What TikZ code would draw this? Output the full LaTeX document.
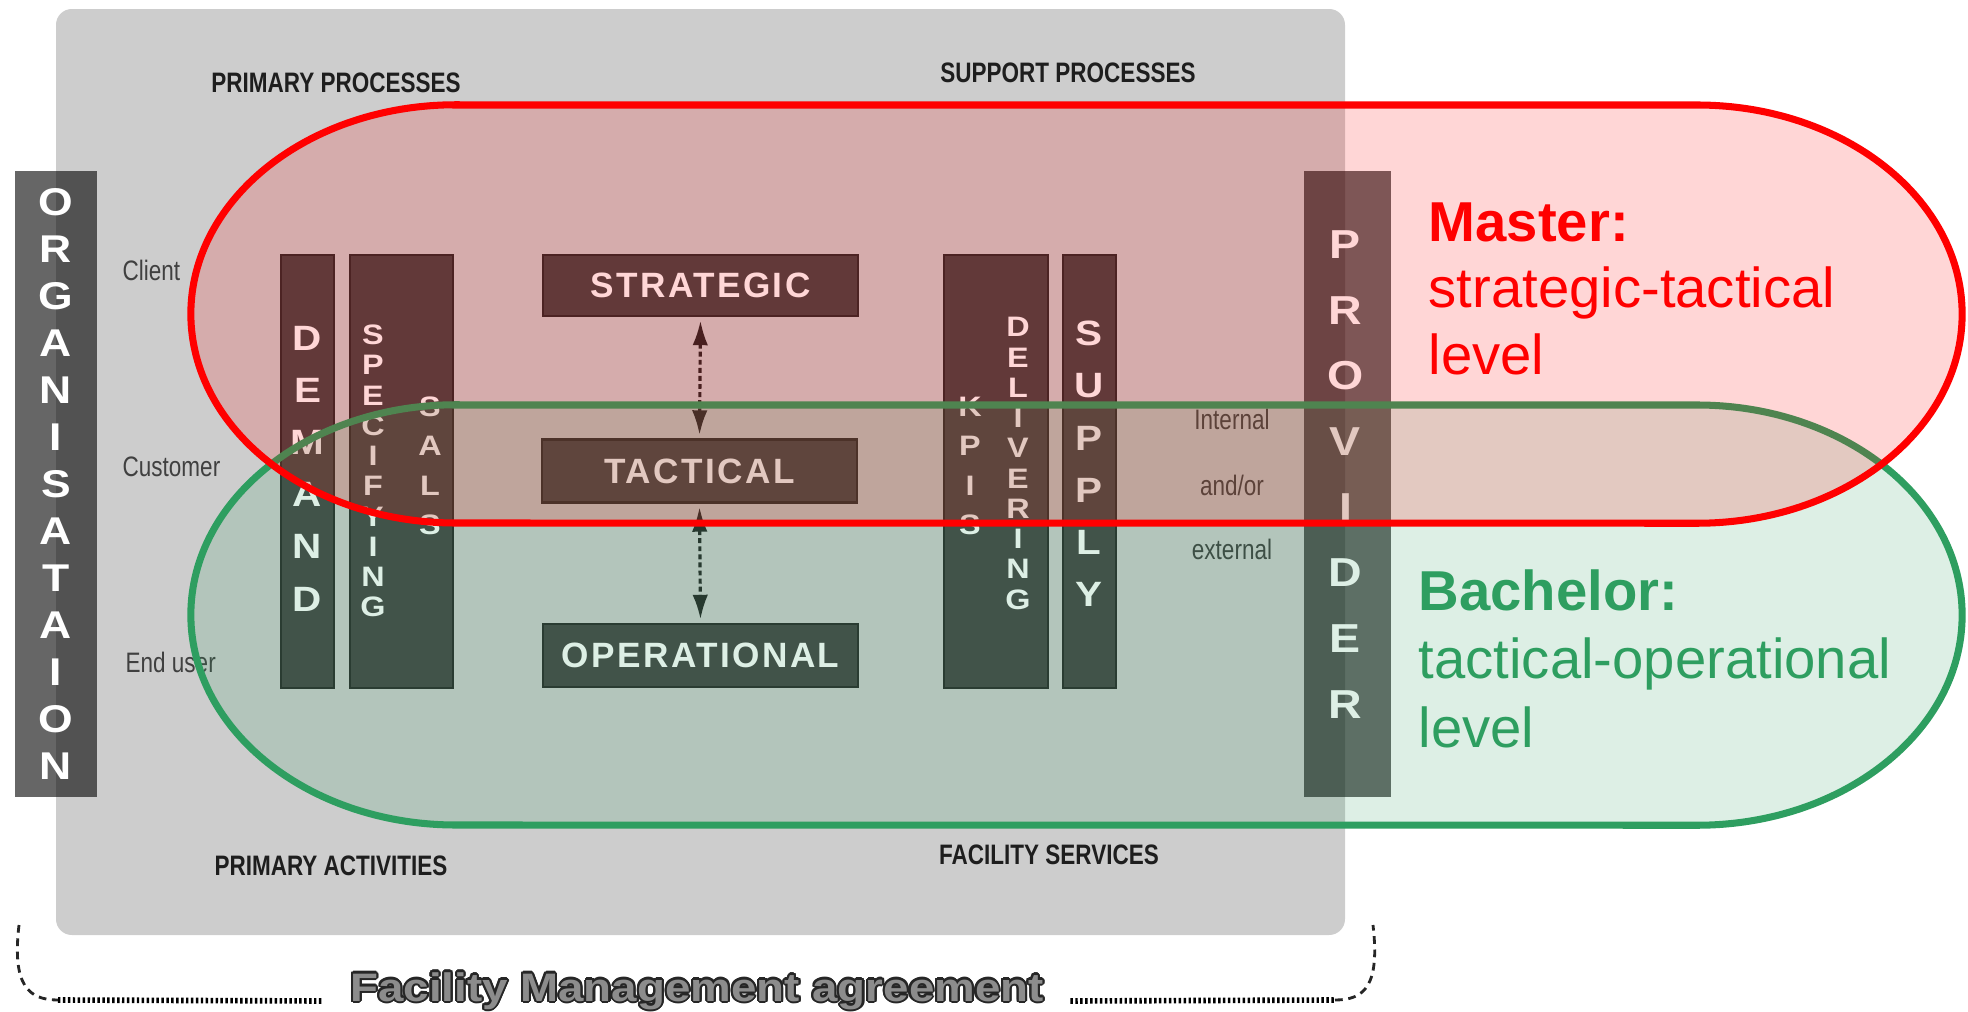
\documentclass[tikz,border=0pt]{standalone}
\usepackage{fontspec}
\setmainfont{Liberation Sans}
\newfontfamily\condfont[FakeStretch=0.8]{Liberation Sans}
\newfontfamily\capsfont[LetterSpace=7]{Liberation Sans}
\newfontfamily\widefont[FakeStretch=1.15]{Liberation Sans}
\usepackage{contour}
\contourlength{0.6pt}
\usetikzlibrary{calc,arrows.meta}

\definecolor{panelgray}{HTML}{CDCDCD}
\definecolor{boxfill}{HTML}{454545}
\definecolor{boxline}{HTML}{2A2A2A}
\definecolor{mred}{HTML}{FF0000}
\definecolor{bgreen}{HTML}{2E9E60}
\definecolor{labelgray}{HTML}{1E1E1E}

\begin{document}
\begin{tikzpicture}[x=0.01cm,y=-0.01cm]
\tikzstyle{head}=[inner sep=0pt,text=labelgray,font=\condfont\bfseries\fontsize{8}{9.6}\selectfont]
\tikzstyle{role}=[inner sep=0pt,text=black!75,font=\condfont\fontsize{8}{9.6}\selectfont]
\tikzstyle{bar}=[fill=black,fill opacity=0.6,inner sep=0pt,minimum height=6.26cm]
\tikzstyle{bartext}=[inner sep=0pt,text=white,align=center]
\tikzstyle{block}=[draw=boxline,fill=boxfill,line width=0.6pt,inner sep=0pt,text=white,font=\capsfont\bfseries\fontsize{10}{12}\selectfont]
\tikzstyle{colbig}=[inner sep=0pt,text=white,align=center,font=\widefont\bfseries\fontsize{10}{14.85}\selectfont]
\tikzstyle{colmid}=[inner sep=0pt,text=white,align=center,font=\widefont\bfseries\fontsize{8}{11.2}\selectfont]
\tikzstyle{colsmall}=[inner sep=0pt,text=white,align=center,font=\widefont\bfseries\fontsize{8}{8.6}\selectfont]
\tikzstyle{link}=[{Latex[length=7pt,width=4.4pt]}-{Latex[length=7pt,width=4.4pt]},black!85,line width=0.9pt,dash pattern=on 1.4pt off 0.9pt,shorten <=1pt,shorten >=1pt]
\tikzstyle{pill}=[line width=2pt,fill opacity=0.16]
\tikzstyle{level}=[inner sep=0pt,anchor=base west,font=\fontsize{16}{19}\selectfont]
\tikzstyle{brace}=[black!85,line width=0.8pt,dash pattern=on 2.2pt off 1.6pt]
\tikzstyle{dots}=[black,line width=1.6pt,dash pattern=on 0.7pt off 0.7pt]

\useasboundingbox (0,0) rectangle (1968,1012);

% grey panel
\fill [panelgray,rounded corners=4.5pt] (56,9) rectangle (1345,935);

\node (pp) [head] at (336,83) {PRIMARY PROCESSES};
\node (sp) [head] at (1068,73) {SUPPORT PROCESSES};
\node (pa) [head] at (331,866) {PRIMARY ACTIVITIES};
\node (fs) [head] at (1049,855) {FACILITY SERVICES};

\node (client) [role,anchor=west] at (122,270) {Client};
\node (customer) [role,anchor=west] at (122,467) {Customer};
\node (enduser) [role,anchor=west] at (125,662) {End user};
\node (int) [role] at (1232,419) {Internal};
\node (andor) [role] at (1232,485) {and/or};
\node (ext) [role] at (1232,549) {external};

% side bars
\node (org) [bar,minimum width=0.82cm] at (56,484) {};
\node (prov) [bar,minimum width=0.87cm] at (1347.5,484) {};
\node (orgtxt) [bartext,font=\widefont\bfseries\fontsize{11}{13.37}\selectfont] at (org.center) {O\\R\\G\\A\\N\\I\\S\\A\\T\\A\\I\\O\\N};
\node (provtxt) [bartext,font=\widefont\bfseries\fontsize{11.5}{18.66}\selectfont] at ($(prov.center)+(-2,-9.5)$) {P\\R\\O\\V\\I\\D\\E\\R};

% levels
\node (strat) [block,minimum width=3.15cm,minimum height=0.61cm] at (700.5,285.5) {STRATEGIC};
\node (tact) [block,minimum width=3.15cm,minimum height=0.63cm] at (699.5,471) {TACTICAL};
\node (oper) [block,minimum width=3.15cm,minimum height=0.63cm] at (700.5,655.5) {OPERATIONAL};
\draw [link] (strat.south) -- (tact.north);
\draw [link] (tact.south) -- (oper.north);

% columns
\node (demand) [block,minimum width=0.53cm,minimum height=4.33cm] at (307.5,471.5) {};
\node (spec) [block,minimum width=1.03cm,minimum height=4.33cm] at (401.5,471.5) {};
\node (deliv) [block,minimum width=1.04cm,minimum height=4.33cm] at (996,471.5) {};
\node (supply) [block,minimum width=0.53cm,minimum height=4.33cm] at (1089.5,471.5) {};
\node (demandtxt) [colbig] at (307.5,468.5) {D\\E\\M\\A\\N\\D};
\node (spectxt) [colsmall] at (373,471) {S\\P\\E\\C\\I\\F\\Y\\I\\N\\G};
\node (salstxt) [colmid] at (430,466) {S\\A\\L\\S};
\node (kpistxt) [colmid] at (970,466) {K\\P\\I\\S};
\node (delivtxt) [colsmall] at (1018,463.5) {D\\E\\L\\I\\V\\E\\R\\I\\N\\G};
\node (supplytxt) [colbig] at (1089,464) {S\\U\\P\\P\\L\\Y};

% bachelor and master ranges
\draw [pill,draw=bgreen,fill=bgreen] (456,405) -- (1697,405) arc[start angle=90,end angle=-90,x radius=2.65cm,y radius=2.1cm] -- (456,825) arc[start angle=270,end angle=90,x radius=2.65cm,y radius=2.1cm] -- cycle;
\draw [pill,draw=mred,fill=mred] (456,105) -- (1697,105) arc[start angle=90,end angle=-90,x radius=2.65cm,y radius=2.09cm] -- (456,523) arc[start angle=270,end angle=90,x radius=2.65cm,y radius=2.09cm] -- cycle;

\node (master) [level,text=mred] at (1428,241) {\textbf{Master:}};
\node (masterlvl) [level,text=mred] at (1428,307) {strategic-tactical};
\node (masterlvl2) [level,text=mred] at (1428,374) {level};
\node (bachelor) [level,text=bgreen] at (1418,610) {\textbf{Bachelor:}};
\node (bachelorlvl) [level,text=bgreen] at (1418,678) {tactical-operational};
\node (bachelorlvl2) [level,text=bgreen] at (1418,747) {level};

% agreement brace
\node (fma) [inner sep=0pt,anchor=base] at (697,1001) {\widefont\bfseries\fontsize{11.3}{13}\selectfont\color{black!45}\contour{black!85}{Facility Management agreement}};
\coordinate (bl) at (19,925);
\coordinate (bl2) at (58,1000);
\coordinate (br) at (1373,925);
\coordinate (br2) at (1335,1000);
\draw [brace] (bl) .. controls (12,985) and (28,1000) .. (bl2);
\draw [dots] (bl2) -- ($(fma.base west)+(-26,0)$);
\draw [dots] ($(fma.base east)+(26,0)$) -- (br2);
\draw [brace] (br2) .. controls (1365,1000) and (1380,985) .. (br);
\end{tikzpicture}
\end{document}
